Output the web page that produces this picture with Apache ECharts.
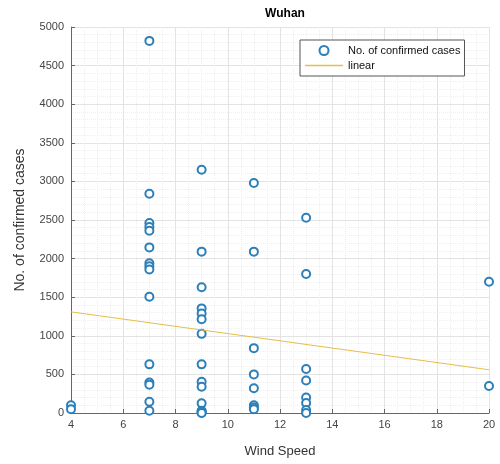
<!DOCTYPE html>
<html>
<head>
<meta charset="utf-8">
<script src="https://cdn.jsdelivr.net/npm/echarts@6/dist/echarts.min.js"></script>
<style>html,body{margin:0;padding:0;background:#fff}#c{width:500px;height:464px}</style>
</head>
<body>
<div id="c"></div>
<script>
// Wind speed (x) and number of confirmed cases (y)
const windSpeed = [
  4, 4,
  7, 7, 7, 7, 7, 7, 7, 7, 7, 7, 7, 7, 7, 7, 7,
  9, 9, 9, 9, 9, 9, 9, 9, 9, 9, 9, 9, 9, 9, 9,
  11, 11, 11, 11, 11, 11, 11, 11,
  13, 13, 13, 13, 13, 13, 13, 13,
  20, 20
];
const confirmedCases = [
  100, 50,
  4820, 2840, 2460, 2410, 2360, 2145, 1940, 1900, 1860, 1505, 630, 395, 365, 145, 30,
  3150, 2090, 1630, 1355, 1290, 1215, 1025, 630, 405, 340, 125, 30, 15, 5, 0,
  2980, 2090, 840, 500, 320, 100, 70, 50,
  2530, 1800, 570, 420, 200, 130, 40, 0,
  1700, 350
];
// Linear fit endpoints
const fitX = [4, 20];
const fitY = [1310, 560];
const seriesNames = ['No. of confirmed cases', 'linear'];
const titleText = 'Wuhan';
const xName = 'Wind Speed';
const yName = 'No. of confirmed cases';

const scatterData = windSpeed.map((x, i) => [x, confirmedCases[i]]);
const lineData = fitX.map((x, i) => [x, fitY[i]]);

const chart = echarts.init(document.getElementById('c'), null, {renderer: 'canvas'});
const font = 'Liberation Sans, Arial, sans-serif';
const blue = '#2c7fb8';
const yellow = '#e6bd4c';
chart.setOption({
  animation: false,
  backgroundColor: '#fff',
  title: {
    text: titleText, left: 280, top: 3, textAlign: 'center',
    textStyle: {fontFamily: font, fontSize: 12, fontWeight: 'bold', color: '#000'}
  },
  legend: {
    orient: 'vertical', left: 300, top: 40,
    backgroundColor: '#fff', borderColor: '#555', borderWidth: 1,
    padding: [5, 4, 5, 5], itemGap: 4, itemWidth: 38, itemHeight: 9,
    textStyle: {fontFamily: font, fontSize: 11, color: '#111'},
    data: [
      {name: seriesNames[0], icon: 'emptyCircle', itemStyle: {color: blue, borderColor: blue, borderWidth: 1}},
      {name: seriesNames[1], icon: 'path://M0,0L40,0L40,1.4L0,1.4Z', itemStyle: {color: yellow}}
    ]
  },
  grid: {left: 71, right: 11, top: 27, bottom: 51},
  xAxis: {
    type: 'value', min: 4, max: 20, interval: 2,
    name: xName, nameLocation: 'middle', nameGap: 32,
    nameTextStyle: {fontFamily: font, fontSize: 13, color: '#333'},
    axisLine: {show: true, lineStyle: {color: '#666'}},
    axisTick: {show: true, inside: true, length: 4, lineStyle: {color: '#666'}},
    axisLabel: {fontFamily: font, fontSize: 11, color: '#444', margin: 6},
    splitLine: {show: true, lineStyle: {color: '#e3e3e3', width: 1}},
    minorTick: {show: false, splitNumber: 4},
    minorSplitLine: {show: true, lineStyle: {color: '#efefef', type: 'dotted'}}
  },
  yAxis: {
    type: 'value', min: 0, max: 5000, interval: 500,
    name: yName, nameLocation: 'middle', nameGap: 44, nameRotate: 90,
    nameTextStyle: {fontFamily: font, fontSize: 14, color: '#333'},
    axisLine: {show: true, lineStyle: {color: '#666'}},
    axisTick: {show: true, inside: true, length: 4, lineStyle: {color: '#666'}},
    axisLabel: {fontFamily: font, fontSize: 11, color: '#444', margin: 7, formatter: v => String(v)},
    splitLine: {show: true, lineStyle: {color: '#e3e3e3', width: 1}},
    minorTick: {show: false, splitNumber: 5},
    minorSplitLine: {show: true, lineStyle: {color: '#efefef', type: 'dotted'}}
  },
  series: [
    {
      name: seriesNames[0], type: 'scatter', data: scatterData,
      symbol: 'emptyCircle', symbolSize: 8,
      itemStyle: {color: blue, borderColor: blue, borderWidth: 1, opacity: 1}
    },
    {
      name: seriesNames[1], type: 'line', data: lineData,
      symbol: 'none', lineStyle: {color: yellow, width: 1}, itemStyle: {color: yellow}
    }
  ]
});
</script>
</body>
</html>
